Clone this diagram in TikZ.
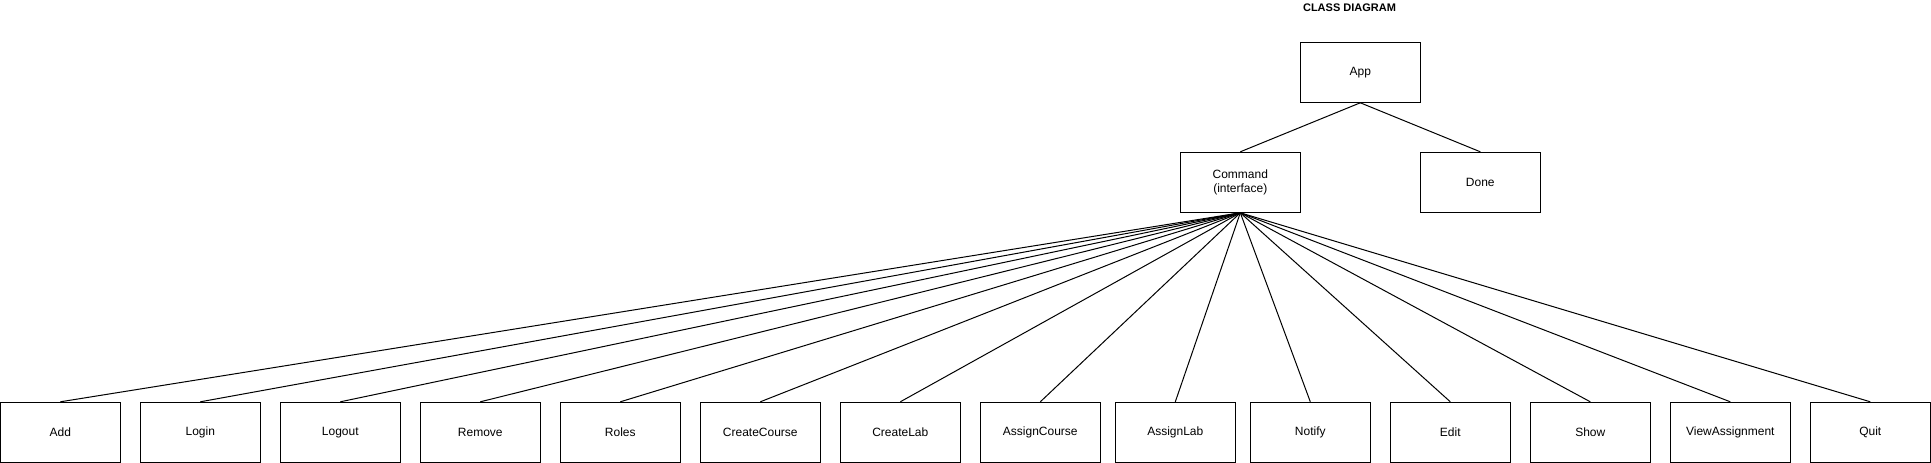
\documentclass[tikz,border=0pt]{standalone}
\usepackage{fontspec}
\setmainfont{Liberation Sans}

\begin{document}
\begin{tikzpicture}
[every node/.style={inner sep=0pt}, classbox/.style={rectangle, minimum width=120pt, minimum height=60pt, line width=1pt, draw=black, align=center, font=\fontsize{12pt}{14pt}\selectfont}]
\useasboundingbox (0pt, 0pt) rectangle (1931pt, -463pt);
\node (title) [font=\fontsize{11pt}{13pt}\selectfont\bfseries] at (1349.5pt, -7.8pt) {CLASS DIAGRAM};
\node (App) [classbox] at (1360.3pt, -72.3pt) {App};
\node (Command) [classbox] at (1240.3pt, -182.3pt) {Command\\(interface)};
\node (Done) [classbox] at (1480.3pt, -182.3pt) {Done};
\node (Add) [classbox] at (60.3pt, -432.3pt) {Add};
\node (Login) [classbox] at (200.3pt, -432.3pt) {Login};
\node (Logout) [classbox] at (340.3pt, -432.3pt) {Logout};
\node (Remove) [classbox] at (480.3pt, -432.3pt) {Remove};
\node (Roles) [classbox] at (620.3pt, -432.3pt) {Roles};
\node (CreateCourse) [classbox] at (760.3pt, -432.3pt) {CreateCourse};
\node (CreateLab) [classbox] at (900.3pt, -432.3pt) {CreateLab};
\node (AssignCourse) [classbox] at (1040.3pt, -432.3pt) {AssignCourse};
\node (AssignLab) [classbox] at (1175.3pt, -432.3pt) {AssignLab};
\node (Notify) [classbox] at (1310.3pt, -432.3pt) {Notify};
\node (Edit) [classbox] at (1450.3pt, -432.3pt) {Edit};
\node (Show) [classbox] at (1590.3pt, -432.3pt) {Show};
\node (ViewAssignment) [classbox] at (1730.3pt, -432.3pt) {ViewAssignment};
\node (Quit) [classbox] at (1870.3pt, -432.3pt) {Quit};
\draw [line width=1pt, color=black] (App.south) to (Command.north);
\draw [line width=1pt, color=black] (App.south) to (Done.north);
\draw [line width=1pt, color=black] (Command.south) to (Add.north);
\draw [line width=1pt, color=black] (Command.south) to (Login.north);
\draw [line width=1pt, color=black] (Command.south) to (Logout.north);
\draw [line width=1pt, color=black] (Command.south) to (Remove.north);
\draw [line width=1pt, color=black] (Command.south) to (Roles.north);
\draw [line width=1pt, color=black] (Command.south) to (CreateCourse.north);
\draw [line width=1pt, color=black] (Command.south) to (CreateLab.north);
\draw [line width=1pt, color=black] (Command.south) to (AssignCourse.north);
\draw [line width=1pt, color=black] (Command.south) to (AssignLab.north);
\draw [line width=1pt, color=black] (Command.south) to (Notify.north);
\draw [line width=1pt, color=black] (Command.south) to (Edit.north);
\draw [line width=1pt, color=black] (Command.south) to (Show.north);
\draw [line width=1pt, color=black] (Command.south) to (ViewAssignment.north);
\draw [line width=1pt, color=black] (Command.south) to (Quit.north);
\end{tikzpicture}
\end{document}
